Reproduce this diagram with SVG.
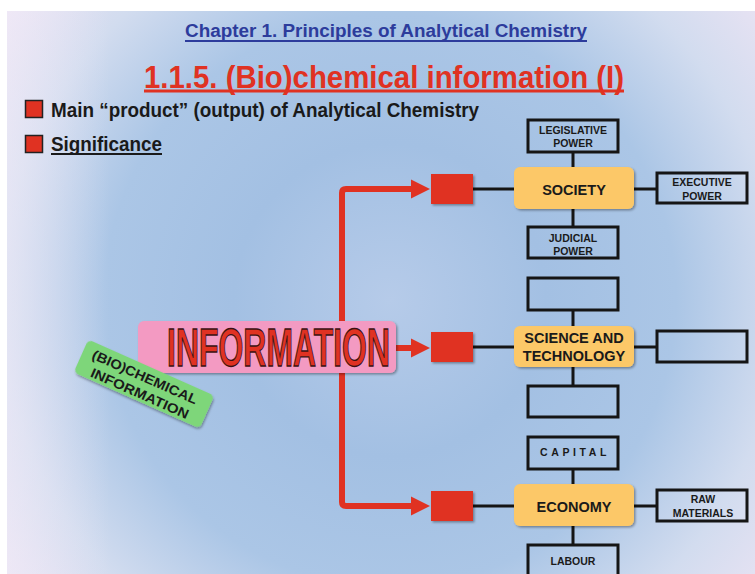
<svg xmlns="http://www.w3.org/2000/svg" width="755" height="574" viewBox="0 0 755 574">
<defs>
<radialGradient id="bg" cx="390" cy="300" r="520" gradientUnits="userSpaceOnUse">
<stop offset="0" stop-color="#b6cbe9"/>
<stop offset="0.3" stop-color="#a3c0e3"/>
<stop offset="0.55" stop-color="#abc6e6"/>
<stop offset="0.75" stop-color="#d2dcef"/>
<stop offset="1" stop-color="#f4e6f5"/>
</radialGradient>
<linearGradient id="lft" x1="7" y1="0" x2="110" y2="0" gradientUnits="userSpaceOnUse">
<stop offset="0" stop-color="#f3ecf8" stop-opacity="0.55"/>
<stop offset="1" stop-color="#f3ecf8" stop-opacity="0"/>
</linearGradient>
<filter id="sh" x="-20%" y="-20%" width="140%" height="140%">
<feDropShadow dx="1.5" dy="1.5" stdDeviation="1" flood-color="#000" flood-opacity="0.35"/>
</filter>
</defs>
<style>
.ttl{font-family:"Liberation Sans Narrow","Liberation Sans",Arial,sans-serif;font-weight:bold}
.bx{fill:none;stroke:#151515;stroke-width:3}
.lbl{font-family:"Liberation Sans",Arial,sans-serif;font-weight:bold;font-size:10.5px;fill:#1a1a1a;text-anchor:middle}
.hub{fill:#fcc868;filter:url(#sh)}
.hubt{font-family:"Liberation Sans",Arial,sans-serif;font-weight:bold;font-size:14.5px;fill:#1a1a1a;text-anchor:middle}
.red{fill:#e03222;filter:url(#sh)}
.ln{stroke:#151515;stroke-width:3;fill:none}
.arr{stroke:#e03222;stroke-width:6;fill:none}
.ah{fill:#e03222}
</style>
<rect x="0" y="0" width="755" height="574" fill="#ffffff"/>
<rect x="7" y="11" width="748" height="563" fill="url(#bg)"/>
<rect x="7" y="11" width="110" height="563" fill="url(#lft)"/>

<g id="header">
<text class="ttl" x="386" y="37" font-size="18" fill="#2d3c9c" text-anchor="middle" textLength="402" lengthAdjust="spacingAndGlyphs">Chapter 1. Principles of Analytical Chemistry</text>
<rect x="185" y="40" width="402" height="2" fill="#2d3c9c"/>
<text class="ttl" x="384" y="88" font-size="32" fill="#e03222" text-anchor="middle" textLength="480" lengthAdjust="spacingAndGlyphs">1.1.5. (Bio)chemical information (I)</text>
<rect x="144" y="89.5" width="480" height="3" fill="#e03222"/>
<rect x="25.5" y="100.5" width="17" height="17" fill="#e03222" stroke="#222" stroke-width="1.5"/>
<text class="ttl" x="51" y="117" font-size="20" fill="#1a1a1a" textLength="428" lengthAdjust="spacingAndGlyphs">Main “product” (output) of Analytical Chemistry</text>
<rect x="25.5" y="135.5" width="17" height="17" fill="#e03222" stroke="#222" stroke-width="1.5"/>
<text class="ttl" x="51" y="151" font-size="20" fill="#1a1a1a" textLength="111" lengthAdjust="spacingAndGlyphs">Significance</text>
<rect x="51" y="153" width="111" height="2" fill="#1a1a1a"/>
</g>

<g id="connectors">
<path class="arr" d="M414 189 H346 Q342 189 342 193 V502 Q342 506 346 506 H414"/>
<path class="arr" d="M390 348 H414"/>
<polygon class="ah" points="411,179.5 430,189 411,198.5"/>
<polygon class="ah" points="411,338.5 430,348 411,357.5"/>
<polygon class="ah" points="411,496.5 430,506 411,515.5"/>
<path class="ln" d="M473 189 H514 M634 189 H657 M573 152 V167 M573 209 V227"/>
<path class="ln" d="M473 347 H514 M634 347 H657 M573 310 V326 M573 367 V386"/>
<path class="ln" d="M473 506 H514 M634 506 H657 M573 469 V484 M573 526 V545"/>
</g>

<g id="information">
<rect x="138" y="321" width="258" height="52" rx="6" fill="#f39ac2" filter="url(#sh)"/>
<text x="167" y="366" font-family="'Liberation Sans Narrow','Liberation Sans',Arial,sans-serif" font-weight="bold" font-size="54" fill="#e03222" stroke="#3a1212" stroke-width="1.3" textLength="223" lengthAdjust="spacingAndGlyphs">INFORMATION</text>
</g>

<g id="biochem" transform="translate(144,384) rotate(24)">
<rect x="-69" y="-18" width="138" height="36" rx="5" fill="#7ed67a" filter="url(#sh)"/>
<text x="-2" y="-2" font-family="'Liberation Sans',Arial,sans-serif" font-weight="bold" font-size="13.5" fill="#1a1a1a" text-anchor="middle" textLength="114" lengthAdjust="spacingAndGlyphs">(BIO)CHEMICAL</text>
<text x="0" y="15" font-family="'Liberation Sans',Arial,sans-serif" font-weight="bold" font-size="13.5" fill="#1a1a1a" text-anchor="middle" textLength="106" lengthAdjust="spacingAndGlyphs">INFORMATION</text>
</g>

<g id="arrowbox1"><rect class="red" x="431" y="174" width="42" height="30"/></g>
<g id="arrowbox2"><rect class="red" x="431" y="332" width="42" height="30"/></g>
<g id="arrowbox3"><rect class="red" x="431" y="491" width="42" height="30"/></g>

<g id="society">
<rect class="hub" x="514" y="167" width="120" height="42" rx="6"/>
<text class="hubt" x="574" y="195">SOCIETY</text>
</g>
<g id="legislative">
<rect class="bx" x="528" y="120" width="90" height="32"/>
<text class="lbl" x="573" y="134">LEGISLATIVE</text>
<text class="lbl" x="573" y="147">POWER</text>
</g>
<g id="judicial">
<rect class="bx" x="528" y="227" width="90" height="31"/>
<text class="lbl" x="573" y="242">JUDICIAL</text>
<text class="lbl" x="573" y="255">POWER</text>
</g>
<g id="executive">
<rect class="bx" x="657" y="173" width="90" height="30"/>
<text class="lbl" x="702" y="186">EXECUTIVE</text>
<text class="lbl" x="702" y="199.5">POWER</text>
</g>

<g id="science">
<rect class="hub" x="514" y="326" width="120" height="41" rx="6"/>
<text class="hubt" x="574" y="343" font-size="14">SCIENCE AND</text>
<text class="hubt" x="574" y="361" font-size="14">TECHNOLOGY</text>
</g>
<g id="science-top"><rect class="bx" x="528" y="278" width="90" height="32"/></g>
<g id="science-bottom"><rect class="bx" x="528" y="386" width="90" height="31"/></g>
<g id="science-right"><rect class="bx" x="657" y="331" width="90" height="31"/></g>

<g id="economy">
<rect class="hub" x="514" y="484" width="120" height="42" rx="6"/>
<text class="hubt" x="574" y="512">ECONOMY</text>
</g>
<g id="capital">
<rect class="bx" x="528" y="437" width="90" height="32"/>
<text class="lbl" x="575" y="456" letter-spacing="3.6">CAPITAL</text>
</g>
<g id="rawmaterials">
<rect class="bx" x="657" y="490" width="90" height="31"/>
<text class="lbl" x="703" y="503">RAW</text>
<text class="lbl" x="703" y="517">MATERIALS</text>
</g>
<g id="labour">
<rect class="bx" x="528" y="545" width="90" height="40"/>
<text class="lbl" x="573" y="565">LABOUR</text>
</g>
</svg>
